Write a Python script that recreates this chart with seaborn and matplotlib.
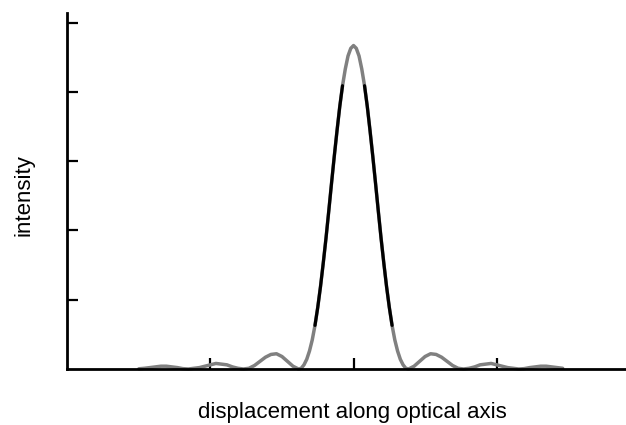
import seaborn as sns
import pandas as pd
from matplotlib import pyplot as plt

# displacement (in units of the first zero) and intensity
displacement = [-3.9, -3.8, -3.7, -3.6, -3.5, -3.4, -3.3, -3.2, -3.1, -3.0,
                -2.9, -2.8, -2.7, -2.6, -2.5, -2.4, -2.3, -2.2, -2.1, -2.0,
                -1.9, -1.8, -1.7, -1.6, -1.5, -1.4, -1.3, -1.2, -1.1, -1.0,
                -0.95, -0.9, -0.85, -0.8, -0.75, -0.7, -0.65, -0.6, -0.55, -0.5,
                -0.45, -0.4, -0.35, -0.3, -0.25, -0.2, -0.15, -0.1, -0.05, 0.0,
                0.05, 0.1, 0.15, 0.2, 0.25, 0.3, 0.35, 0.4, 0.45, 0.5,
                0.55, 0.6, 0.65, 0.7, 0.75, 0.8, 0.85, 0.9, 0.95, 1.0,
                1.1, 1.2, 1.3, 1.4, 1.5, 1.6, 1.7, 1.8, 1.9, 2.0,
                2.1, 2.2, 2.3, 2.4, 2.5, 2.6, 2.7, 2.8, 2.9, 3.0,
                3.1, 3.2, 3.3, 3.4, 3.5, 3.6, 3.7, 3.8]
intensity = [0.003, 0.01, 0.02, 0.03, 0.04, 0.04, 0.03, 0.02, 0.005, 0.0,
             0.01, 0.02, 0.04, 0.06, 0.08, 0.07, 0.06, 0.03, 0.01, 0.0,
             0.01, 0.05, 0.11, 0.17, 0.21, 0.22, 0.18, 0.11, 0.04, 0.0,
             0.01, 0.06, 0.14, 0.26, 0.42, 0.63, 0.89, 1.19, 1.53, 1.89,
             2.28, 2.68, 3.07, 3.44, 3.79, 4.09, 4.33, 4.52, 4.63, 4.67,
             4.63, 4.52, 4.33, 4.09, 3.79, 3.44, 3.07, 2.68, 2.28, 1.89,
             1.53, 1.19, 0.89, 0.63, 0.42, 0.26, 0.14, 0.06, 0.01, 0.0,
             0.04, 0.11, 0.18, 0.22, 0.21, 0.17, 0.11, 0.05, 0.01, 0.0,
             0.01, 0.03, 0.06, 0.07, 0.08, 0.06, 0.04, 0.02, 0.01, 0.0,
             0.005, 0.02, 0.03, 0.04, 0.04, 0.03, 0.02, 0.01]
x_ticks = [-2.6, 0.0, 2.6]
y_ticks = [1, 2, 3, 4, 5]

df = pd.DataFrame({"displacement": displacement, "intensity": intensity})
# dark part of the flanks of the main peak
left = df[(df.displacement >= -0.7) & (df.displacement <= -0.2)]
right = df[(df.displacement >= 0.2) & (df.displacement <= 0.7)]

sns.set_style("ticks")
plt.rcParams["font.family"] = ["Liberation Sans", "DejaVu Sans"]

fig = plt.figure(figsize=(6.26, 4.25), dpi=100)
ax = fig.add_axes([0.1075, 0.1318, 0.8925, 0.8376])

sns.lineplot(x="displacement", y="intensity", data=df, color="#808080",
             lw=2.5, sort=False, estimator=None, ax=ax, clip_on=False)
sns.lineplot(x="displacement", y="intensity", data=left, color="black",
             lw=2.3, sort=False, estimator=None, ax=ax)
sns.lineplot(x="displacement", y="intensity", data=right, color="black",
             lw=2.3, sort=False, estimator=None, ax=ax)

ax.set_xlim(-5.2, 4.95)
ax.set_ylim(0, 5.14)
ax.set_xticks(x_ticks)
ax.set_yticks(y_ticks)
ax.set_xticklabels([])
ax.set_yticklabels([])
ax.tick_params(direction="in", length=8, width=1.6, color="black")
ax.set_xlabel("")
ax.set_ylabel("")
sns.despine(ax=ax)
for s in ["left", "bottom"]:
    ax.spines[s].set_linewidth(2)
    ax.spines[s].set_color("black")

fig.text(352 / 626, 1 - 418 / 425, "displacement along optical axis",
         ha="center", va="baseline", fontsize=16, color="black")
fig.text(24 / 626, 1 - 195 / 425, "intensity", rotation=90,
         ha="center", va="center", fontsize=16, color="black")

fig.savefig("out.png", dpi=100)
